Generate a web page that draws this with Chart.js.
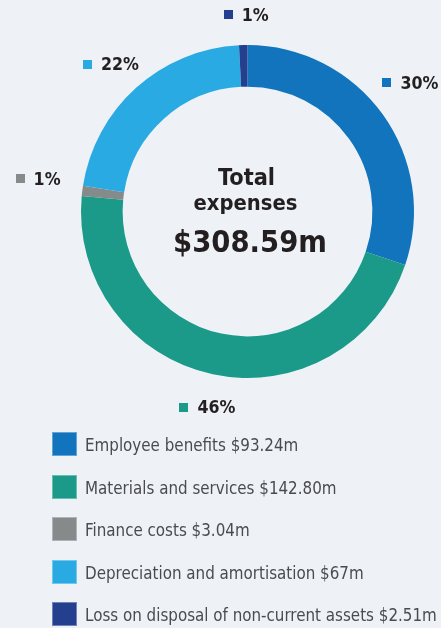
<!DOCTYPE html>
<html>
<head>
<meta charset="utf-8">
<script src="https://cdn.jsdelivr.net/npm/chart.js@4.4.1/dist/chart.umd.min.js"></script>
<style>
  html, body { margin: 0; padding: 0; background: #eef2f6; }
  canvas { display: block; }
</style>
</head>
<body>
<canvas id="c" width="441" height="628"></canvas>
<script>
// ---- Data ----
const categories = [
  'Employee benefits',
  'Materials and services',
  'Finance costs',
  'Depreciation and amortisation',
  'Loss on disposal of non-current assets'
];
const valueLabels = ['$93.24m', '$142.80m', '$3.04m', '$67m', '$2.51m'];
const values = [93.24, 142.80, 3.04, 67, 2.51];
const percentLabels = ['30%', '46%', '1%', '22%', '1%'];
const totalLines = ['Total', 'expenses', '$308.59m'];

// ---- Style / layout ----
const colors = ['#1174bd', '#1b9a89', '#858a8a', '#2aaae2', '#253f8f'];
const DARK = '#231f20';
const LEGEND_TEXT = '#4b4b4d';
const BOLD_FAM = "'DejaVu Sans Condensed', 'Liberation Sans Narrow', 'DejaVu Sans', sans-serif";
const REG_FAM = "'DejaVu Sans Condensed', 'Liberation Sans Narrow', 'DejaVu Sans', sans-serif";
const labelRadius = [207.6, 200, 212, 201, 197];
const labelAngleShift = [-2.7, -0.5, 1.8, -0.8, 1.1]; // degrees

function fitSize(ctx, text, weight, fam, target) {
  ctx.font = weight + ' 100px ' + fam;
  const w = ctx.measureText(text).width;
  return 100 * target / w;
}

const overlay = {
  id: 'overlay',
  afterDraw(chart) {
    const ctx = chart.ctx;
    const meta = chart.getDatasetMeta(0);
    const cx = (chart.chartArea.left + chart.chartArea.right) / 2;
    const cy = (chart.chartArea.top + chart.chartArea.bottom) / 2;
    ctx.save();

    // percentage labels around the ring
    const lblSize = fitSize(ctx, '30%', 'bold', BOLD_FAM, 38);
    ctx.font = 'bold ' + lblSize.toFixed(2) + 'px ' + BOLD_FAM;
    ctx.textBaseline = 'alphabetic';
    ctx.textAlign = 'left';
    const mk = 9, gap = 9;
    meta.data.forEach((arc, i) => {
      const mid = (arc.startAngle + arc.endAngle) / 2 + labelAngleShift[i] * Math.PI / 180;
      const px = cx + labelRadius[i] * Math.cos(mid);
      const py = cy + labelRadius[i] * Math.sin(mid);
      const t = percentLabels[i];
      const tw = ctx.measureText(t).width;
      const gw = mk + gap + tw;
      const x0 = px - gw / 2;
      ctx.fillStyle = colors[i];
      ctx.fillRect(Math.round(x0), Math.round(py - mk / 2), mk, mk);
      ctx.fillStyle = DARK;
      ctx.fillText(t, x0 + mk + gap, py + 6);
    });

    // centre text
    ctx.textAlign = 'center';
    ctx.fillStyle = DARK;
    let s = fitSize(ctx, totalLines[0], 'bold', BOLD_FAM, 57);
    ctx.font = 'bold ' + s.toFixed(2) + 'px ' + BOLD_FAM;
    ctx.fillText(totalLines[0], cx - 1, 185);
    s = fitSize(ctx, totalLines[1], 'bold', BOLD_FAM, 104);
    ctx.font = 'bold ' + s.toFixed(2) + 'px ' + BOLD_FAM;
    ctx.fillText(totalLines[1], cx - 2, 210);
    s = fitSize(ctx, totalLines[2], 'bold', BOLD_FAM, 154);
    ctx.font = 'bold ' + s.toFixed(2) + 'px ' + BOLD_FAM;
    ctx.fillText(totalLines[2], cx + 2.5, 252);

    // legend
    const legTexts = categories.map((c, i) => c + ' ' + valueLabels[i]);
    const ls = fitSize(ctx, legTexts[4], 'normal', REG_FAM, 352);
    ctx.font = 'normal ' + ls.toFixed(2) + 'px ' + REG_FAM;
    ctx.textAlign = 'left';
    const top0 = 432, step = 42.5;
    legTexts.forEach((t, i) => {
      const y = top0 + i * step;
      ctx.fillStyle = colors[i];
      ctx.fillRect(52, Math.round(y), 25, 24);
      ctx.strokeStyle = 'rgba(255,255,255,0.35)';
      ctx.lineWidth = 1;
      ctx.strokeRect(52.5, Math.round(y) + 0.5, 24, 23);
      ctx.fillStyle = LEGEND_TEXT;
      ctx.fillText(t, 85, y + 19);
    });
    ctx.restore();
  }
};

new Chart(document.getElementById('c'), {
  type: 'doughnut',
  data: {
    labels: categories,
    datasets: [{
      data: values,
      backgroundColor: colors,
      borderWidth: 0
    }]
  },
  options: {
    responsive: false,
    devicePixelRatio: 1,
    animation: false,
    cutout: '75%',
    layout: { padding: { left: 81, right: 27, top: 45, bottom: 250 } },
    plugins: { legend: { display: false }, tooltip: { enabled: false } }
  },
  plugins: [overlay]
});
</script>
</body>
</html>
